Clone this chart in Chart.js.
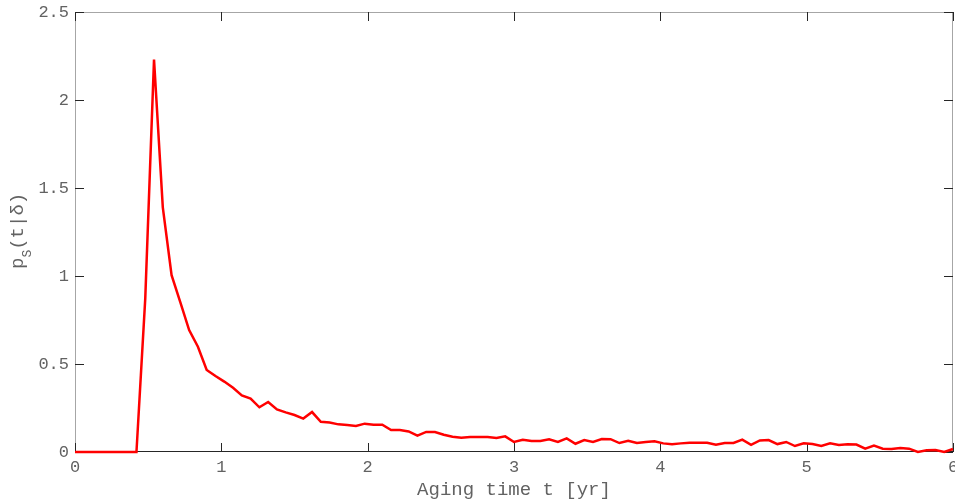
<!DOCTYPE html>
<html><head><meta charset="utf-8">
<script src="https://cdn.jsdelivr.net/npm/chart.js@4/dist/chart.umd.min.js"></script>
<style>html,body{margin:0;padding:0;background:#fff;}canvas{display:block}</style>
</head><body>
<canvas id="c" width="955" height="504"></canvas>
<script>
// Aging time t [yr]
const agingTime = [
  0, 0.06, 0.12, 0.18, 0.24, 0.30, 0.36, 0.42, 0.48, 0.54,
  0.60, 0.66, 0.72, 0.78, 0.84, 0.90, 0.96, 1.02, 1.08, 1.14,
  1.20, 1.26, 1.32, 1.38, 1.44, 1.50, 1.56, 1.62, 1.68, 1.74,
  1.80, 1.86, 1.92, 1.98, 2.04, 2.10, 2.16, 2.22, 2.28, 2.34,
  2.40, 2.46, 2.52, 2.58, 2.64, 2.70, 2.76, 2.82, 2.88, 2.94,
  3.00, 3.06, 3.12, 3.18, 3.24, 3.30, 3.36, 3.42, 3.48, 3.54,
  3.60, 3.66, 3.72, 3.78, 3.84, 3.90, 3.96, 4.02, 4.08, 4.14,
  4.20, 4.26, 4.32, 4.38, 4.44, 4.50, 4.56, 4.62, 4.68, 4.74,
  4.80, 4.86, 4.92, 4.98, 5.04, 5.10, 5.16, 5.22, 5.28, 5.34,
  5.40, 5.46, 5.52, 5.58, 5.64, 5.70, 5.76, 5.82, 5.88, 5.94,
  6.00
];
// p_S(t|delta)
const density = [
  0, 0, 0, 0, 0, 0, 0, 0, 0.87, 2.23,
  1.39, 1.005, 0.85, 0.693, 0.598, 0.466, 0.432, 0.40, 0.365, 0.322,
  0.303, 0.254, 0.284, 0.242, 0.225, 0.21, 0.19, 0.227, 0.172, 0.167,
  0.157, 0.153, 0.148, 0.161, 0.155, 0.155, 0.125, 0.125, 0.117, 0.093,
  0.114, 0.114, 0.098, 0.087, 0.081, 0.085, 0.085, 0.085, 0.08, 0.089,
  0.057, 0.069, 0.062, 0.062, 0.072, 0.057, 0.077, 0.047, 0.068, 0.057,
  0.074, 0.073, 0.051, 0.064, 0.051, 0.057, 0.061, 0.049, 0.044, 0.049,
  0.053, 0.053, 0.053, 0.041, 0.051, 0.051, 0.07, 0.041, 0.066, 0.068,
  0.045, 0.057, 0.034, 0.049, 0.045, 0.034, 0.049, 0.04, 0.044, 0.042,
  0.019, 0.036, 0.019, 0.017, 0.023, 0.019, 0.0, 0.01, 0.011, 0.0,
  0.017
];
const xTickValues = [0, 1, 2, 3, 4, 5, 6];
const xTickLabels = ['0', '1', '2', '3', '4', '5', '6'];
const yTickValues = [0, 0.5, 1, 1.5, 2, 2.5];
const yTickLabels = ['0', '0.5', '1', '1.5', '2', '2.5'];
const xTitle = 'Aging time t [yr]';

const FONT = "'Liberation Mono', 'DejaVu Sans Mono', monospace";
const TXT = '#626262';

const frame = {
  id: 'frame',
  beforeDatasetsDraw(chart) {
    const ctx = chart.ctx;
    const {left, right, top, bottom} = chart.chartArea;
    const xs = chart.scales.x, ys = chart.scales.y;
    ctx.save();
    ctx.lineWidth = 1;
    ctx.strokeStyle = '#a6a6a6';
    ctx.beginPath();
    ctx.moveTo(left + 0.5, bottom); ctx.lineTo(left + 0.5, top + 0.5);
    ctx.lineTo(right - 0.5, top + 0.5); ctx.lineTo(right - 0.5, bottom);
    ctx.stroke();
    ctx.strokeStyle = '#262626';
    ctx.beginPath();
    ctx.moveTo(left, bottom - 0.5); ctx.lineTo(right, bottom - 0.5);
    ctx.stroke();
    const L = 9;
    ctx.beginPath();
    xTickValues.forEach(v => {
      const px = Math.round(xs.getPixelForValue(v)) + 0.5;
      ctx.moveTo(px, bottom); ctx.lineTo(px, bottom - L);
      ctx.moveTo(px, top); ctx.lineTo(px, top + L);
    });
    yTickValues.forEach(v => {
      const py = Math.round(ys.getPixelForValue(v)) + 0.5;
      ctx.moveTo(left, py); ctx.lineTo(left + L, py);
      ctx.moveTo(right, py); ctx.lineTo(right - L, py);
    });
    ctx.stroke();
    ctx.restore();
  },
  afterDraw(chart) {
    const ctx = chart.ctx;
    const {left, right, top, bottom} = chart.chartArea;
    ctx.save();
    ctx.fillStyle = TXT;
    ctx.textBaseline = 'alphabetic';
    ctx.textAlign = 'center';
    ctx.font = '19px ' + FONT;
    ctx.fillText(xTitle, (left + right) / 2, 495);
    ctx.restore();

    const cy = (top + bottom) / 2;
    ctx.save();
    ctx.translate(23, cy);
    ctx.rotate(-Math.PI / 2);
    ctx.fillStyle = TXT;
    ctx.textBaseline = 'alphabetic';
    ctx.textAlign = 'left';
    ctx.font = '19px ' + FONT;
    let x = -37;
    ctx.fillText('p', x, 0);
    x += ctx.measureText('p').width;
    ctx.font = '13px ' + FONT;
    ctx.fillText('S', x, 8);
    x += ctx.measureText('S').width;
    ctx.font = '19px ' + FONT;
    ctx.fillText('(t|\u03B4)', x, 0);
    ctx.restore();
  }
};

function noPad(s) { s.paddingLeft = 0; s.paddingRight = 0; s.paddingTop = 0; s.paddingBottom = 0; }

new Chart(document.getElementById('c'), {
  type: 'line',
  data: {
    datasets: [{
      data: agingTime.map((t, i) => ({x: t, y: density[i]})),
      borderColor: '#ff0000',
      borderWidth: 2.5,
      pointRadius: 0,
      tension: 0,
      fill: false,
      clip: 3
    }]
  },
  options: {
    responsive: false,
    animation: false,
    devicePixelRatio: 1,
    layout: {padding: {top: 12, right: 2, left: 0, bottom: 0}},
    plugins: {legend: {display: false}, tooltip: {enabled: false}},
    scales: {
      x: {
        type: 'linear', min: 0, max: 6,
        afterBuildTicks(s) { s.ticks = xTickValues.map(v => ({value: v})); },
        afterFit(s) { s.height = 52; noPad(s); },
        grid: {display: false, drawTicks: false}, border: {display: false},
        ticks: {
          callback: (v, i) => xTickLabels[i],
          font: {family: FONT, size: 17}, color: TXT, padding: 5, maxRotation: 0
        }
      },
      y: {
        type: 'linear', min: 0, max: 2.5,
        afterBuildTicks(s) { s.ticks = yTickValues.map(v => ({value: v})); },
        afterFit(s) { s.width = 75; noPad(s); },
        grid: {display: false, drawTicks: false}, border: {display: false},
        ticks: {
          callback: (v, i) => yTickLabels[i],
          font: {family: FONT, size: 17}, color: TXT, padding: 6
        }
      }
    }
  },
  plugins: [frame]
});
</script>
</body></html>
